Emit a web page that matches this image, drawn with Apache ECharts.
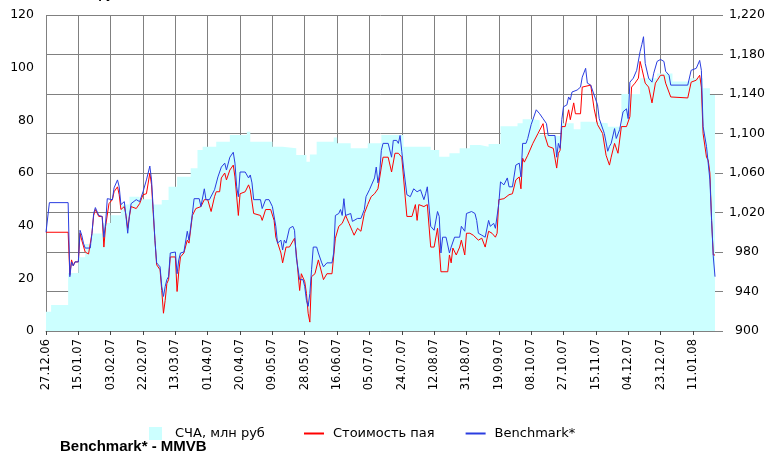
<!DOCTYPE html>
<html>
<head>
<meta charset="utf-8">
<script src="https://cdn.jsdelivr.net/npm/echarts@6/dist/echarts.min.js"></script>
<style>
html,body{margin:0;padding:0;background:#fff;}
#chart{width:771px;height:451px;}
</style>
</head>
<body>
<div id="chart"></div>
<script>
// day = number of days since 27.12.06
var startDate = new Date(2006, 11, 27);
var dayCount = 394;

// СЧА, млн руб (left axis), step values
var navData = [[0,7.3],[3,9.9],[13,22],[19,28],[23,33],[27,37],[33,41],[38,44],[44,48],[49,51],[55,50],[63,48],[68,49.7],[72,54.8],[77,58.6],[85,61.8],[89,68.7],[92,70],[100,71.9],[108,74.4],[118,75.7],[120,71.9],[133,70],[139,69.4],[147,66.8],[153,64.3],[155,67],[159,71.9],[169,73.5],[171,71.3],[179,69.4],[189,71.3],[197,74.4],[210,70],[226,68.7],[231,66.2],[237,67.5],[243,69.4],[249,70.6],[255,70],[260,71],[267,77.8],[277,78.9],[280,80.4],[286,80],[290,74.4],[297,74],[303,78.9],[310,76.6],[314,79.5],[321,78.9],[330,77.6],[338,90],[349,96],[359,97.8],[368,94.7],[378,96],[386,92.2],[390,89.6],[393,89.6]];

// Стоимость пая (right axis)
var unitData = [[0,1000],[13,1000],[14,957],[15,972],[16,966],[17,970],[19,970],[20,999],[21,992],[23,980],[25,978],[27,999],[28,1017],[29,1023],[31,1016],[33,1016],[34,985],[35,1006],[37,1029],[39,1033],[40,1041],[42,1046],[43,1038],[44,1023],[46,1026],[47,1017],[48,1004],[49,1016],[50,1026],[53,1024],[55,1029],[57,1038],[59,1039],[60,1039],[61,1060],[62,1048],[63,1019],[64,992],[65,967],[67,962],[68,941],[69,918],[70,931],[71,948],[72,952],[73,975],[76,975],[77,940],[78,960],[79,975],[81,979],[83,992],[84,989],[86,1017],[88,1024],[91,1026],[93,1033],[95,1033],[97,1021],[99,1036],[100,1041],[102,1041],[103,1055],[105,1060],[106,1053],[108,1063],[110,1068],[111,1056],[113,1017],[114,1039],[117,1041],[119,1048],[120,1043],[121,1041],[122,1019],[126,1017],[127,1012],[129,1023],[132,1023],[134,1012],[135,995],[138,979],[139,969],[141,985],[143,985],[146,994],[147,979],[149,941],[150,958],[152,950],[153,938],[154,918],[155,909],[156,955],[158,958],[160,972],[161,972],[163,952],[165,958],[168,958],[170,994],[172,1006],[174,1009],[176,1017],[178,1009],[180,1001],[181,997],[183,1004],[185,1001],[186,1002],[187,1019],[189,1028],[191,1036],[193,1039],[195,1044],[197,1066],[198,1076],[201,1076],[203,1061],[205,1080],[207,1080],[209,1076],[210,1056],[212,1016],[215,1016],[217,1028],[218,1012],[219,1028],[222,1026],[224,1028],[226,985],[228,985],[230,1004],[231,985],[232,960],[236,960],[237,977],[238,969],[239,984],[241,977],[243,985],[244,992],[246,977],[247,999],[249,999],[251,997],[254,992],[256,994],[258,985],[260,1001],[262,999],[264,995],[265,999],[266,1033],[269,1034],[272,1038],[274,1039],[276,1053],[278,1056],[279,1044],[280,1075],[281,1071],[283,1078],[284,1078],[286,1090],[289,1100],[290,1100],[292,1110],[293,1098],[295,1087],[298,1085],[300,1065],[301,1080],[302,1083],[303,1107],[305,1107],[307,1124],[308,1114],[310,1131],[311,1120],[314,1120],[315,1147],[320,1149],[322,1125],[324,1109],[327,1100],[329,1078],[331,1068],[332,1076],[334,1090],[336,1080],[338,1107],[341,1107],[343,1117],[344,1147],[346,1151],[348,1156],[349,1173],[350,1166],[352,1151],[354,1147],[356,1131],[358,1151],[361,1159],[363,1159],[364,1151],[367,1137],[368,1136],[377,1136],[379,1152],[382,1154],[384,1159],[385,1147],[386,1100],[388,1076],[389,1073],[390,1060],[391,1012],[392,977],[393,977]];

// Benchmark* (right axis)
var benchData = [[0,1000],[2,1030],[13,1030],[14,955],[15,970],[16,966],[17,970],[19,970],[20,1002],[21,997],[22,989],[23,984],[26,984],[27,999],[28,1019],[29,1025],[31,1017],[33,1016],[34,995],[35,1009],[36,1034],[39,1033],[40,1045],[42,1053],[43,1046],[44,1028],[46,1031],[47,1016],[48,999],[49,1017],[50,1029],[53,1033],[55,1031],[57,1041],[59,1053],[60,1055],[61,1067],[62,1053],[63,1023],[64,992],[65,969],[67,965],[68,945],[69,935],[70,945],[71,952],[72,955],[73,979],[76,980],[77,958],[78,972],[79,979],[81,980],[83,1001],[84,992],[86,1019],[87,1034],[90,1034],[91,1026],[93,1044],[94,1033],[96,1033],[99,1043],[101,1056],[103,1066],[105,1070],[106,1063],[108,1076],[110,1081],[111,1070],[112,1046],[113,1036],[114,1061],[117,1061],[119,1055],[120,1058],[121,1050],[122,1033],[126,1033],[127,1024],[129,1033],[131,1033],[133,1026],[135,1006],[136,989],[138,992],[139,982],[140,992],[141,989],[143,1004],[145,1006],[146,1002],[147,975],[149,952],[151,952],[152,945],[153,931],[154,925],[155,938],[156,962],[157,985],[159,985],[160,979],[162,969],[163,965],[165,969],[168,969],[169,979],[170,1017],[172,1019],[173,1023],[174,1017],[175,1034],[176,1017],[179,1019],[180,1011],[181,1009],[183,1014],[185,1014],[186,1016],[187,1023],[188,1036],[190,1043],[193,1055],[194,1066],[195,1050],[196,1060],[197,1083],[198,1090],[201,1090],[203,1076],[204,1093],[206,1093],[207,1090],[208,1098],[209,1082],[210,1066],[212,1038],[214,1036],[216,1044],[218,1041],[220,1043],[222,1033],[223,1039],[224,1046],[226,1006],[228,1002],[230,1021],[231,1016],[232,979],[233,995],[235,995],[237,979],[238,985],[240,995],[243,995],[244,1006],[246,1001],[247,1019],[250,1021],[252,1019],[253,1012],[254,999],[256,997],[258,995],[260,1012],[261,1006],[263,1009],[264,1004],[266,1029],[267,1051],[269,1048],[271,1055],[272,1046],[274,1046],[276,1068],[278,1070],[279,1056],[280,1090],[282,1090],[283,1095],[285,1109],[286,1107],[288,1124],[290,1120],[292,1115],[294,1110],[295,1098],[299,1098],[300,1076],[301,1090],[302,1085],[303,1114],[304,1127],[306,1129],[307,1137],[308,1134],[309,1142],[312,1144],[314,1147],[315,1157],[317,1166],[318,1151],[320,1149],[321,1149],[322,1139],[324,1129],[325,1115],[326,1114],[328,1100],[330,1082],[331,1087],[332,1090],[334,1105],[335,1095],[337,1104],[339,1122],[341,1125],[342,1115],[343,1152],[345,1156],[347,1164],[349,1183],[350,1190],[351,1198],[352,1171],[354,1156],[356,1152],[357,1161],[358,1159],[359,1173],[361,1175],[363,1173],[364,1163],[366,1159],[367,1149],[377,1149],[379,1164],[382,1166],[384,1174],[385,1164],[386,1107],[388,1087],[389,1087],[390,1053],[391,1012],[392,975],[393,955]];

function pad(n){ return (n < 10 ? '0' : '') + n; }
var days = [];
for (var i = 0; i < dayCount; i++) {
  var dt = new Date(startDate.getFullYear(), startDate.getMonth(), startDate.getDate() + i);
  days.push(pad(dt.getDate()) + '.' + pad(dt.getMonth() + 1) + '.' + pad(dt.getFullYear() % 100));
}

var font = 'DejaVu Sans';
var gridColor = '#808080';
var unitColor = '#ff0000';
var benchColor = '#2a3de0';

var chart = echarts.init(document.getElementById('chart'));
chart.setOption({
  animation: false,
  backgroundColor: '#fff',
  textStyle: {fontFamily: font, color: '#000'},
  grid: {left: 46, right: 56, top: 15, bottom: 120},
  graphic: [
    {type: 'text', left: 34, top: -12, style: {text: 'СЧА, млн руб', font: 'bold 13px "Liberation Sans"', fill: '#000'}},
    {type: 'text', left: 60, top: 439, style: {text: 'Benchmark* - MMVB', font: 'bold 15px "Liberation Sans"', fill: '#000'}}
  ],
  legend: [
    {
      data: ['СЧА, млн руб'], left: 144, top: 422, icon: 'rect',
      itemWidth: 13, itemHeight: 13,
      textStyle: {fontFamily: font, fontSize: 13, color: '#000', padding: [0, 0, 0, 8]}
    },
    {
      data: ['Стоимость пая', 'Benchmark*'],
      left: 298, top: 422,
      itemWidth: 20, itemHeight: 13, itemGap: 30,
      itemStyle: {opacity: 0},
      textStyle: {fontFamily: font, fontSize: 13, color: '#000', padding: [0, 0, 0, 4]}
    }
  ],
  xAxis: {
    type: 'category',
    data: days,
    boundaryGap: false,
    axisLine: {show: true, lineStyle: {color: gridColor}},
    axisTick: {show: true, interval: 18, length: 4, lineStyle: {color: '#444'}},
    axisLabel: {interval: 18, rotate: 90, fontSize: 11.5, color: '#000', margin: 8, fontFamily: font},
    splitLine: {show: true, interval: 18, lineStyle: {color: gridColor, width: 1}}
  },
  yAxis: [
    {
      type: 'value', min: 0, max: 120, interval: 20, position: 'left',
      axisLine: {show: false}, axisTick: {show: false}, splitLine: {show: false},
      axisLabel: {fontSize: 12.5, color: '#000', margin: 12, fontFamily: font}
    },
    {
      type: 'value', min: 900, max: 1220, interval: 40, position: 'right',
      axisLine: {show: false},
      axisTick: {show: true, length: 8, lineStyle: {color: gridColor}},
      splitLine: {show: true, lineStyle: {color: gridColor, width: 1}},
      axisLabel: {
        fontSize: 12.5, color: '#000', margin: 32, align: 'center', fontFamily: font,
        formatter: function (v) { return v.toLocaleString('en-US'); }
      }
    }
  ],
  series: [
    {
      name: 'СЧА, млн руб', type: 'line', yAxisIndex: 0, step: 'end',
      data: navData, symbol: 'none', color: '#ccffff',
      lineStyle: {width: 0}, areaStyle: {color: '#ccffff', opacity: 1}
    },
    {
      name: 'Стоимость пая', type: 'line', yAxisIndex: 1,
      data: unitData, symbol: 'none', color: unitColor,
      lineStyle: {width: 1, color: unitColor}
    },
    {
      name: 'Benchmark*', type: 'line', yAxisIndex: 1,
      data: benchData, symbol: 'none', color: benchColor,
      lineStyle: {width: 1, color: benchColor}
    }
  ]
});
</script>
</body>
</html>
